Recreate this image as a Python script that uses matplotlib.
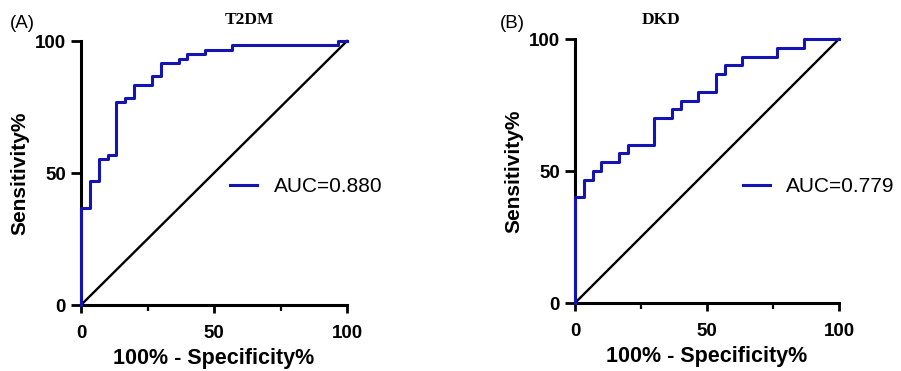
import matplotlib.pyplot as plt
from matplotlib.ticker import MultipleLocator

# ROC corner points (100% - specificity, sensitivity)
fpr_t2dm = [0, 0, 3.3, 6.7, 10, 13.3, 16.7, 20, 26.7, 30, 36.7, 40, 46.7, 56.7, 96.7, 100]
tpr_t2dm = [0, 36.7, 47, 55.3, 56.8, 76.8, 78.3, 83.5, 86.8, 91.8, 93.3, 95.1, 96.6, 98.4, 100, 100]

fpr_dkd = [0, 0, 3.3, 6.7, 10, 16.7, 20, 30, 36.7, 40, 46.7, 53.3, 56.7, 63.3, 76.7, 86.7, 100]
tpr_dkd = [0, 40, 46.7, 50, 53.3, 56.7, 60, 70, 73.3, 76.7, 80, 86.7, 90, 93.3, 96.7, 100, 100]

titles = ['T2DM', 'DKD']
panel_tags = ['(A)', '(B)']
auc_labels = ['AUC=0.880', 'AUC=0.779']

plt.rcParams['font.family'] = ['Liberation Sans', 'DejaVu Sans']

W, H = 901, 371
fig = plt.figure(figsize=(W / 100, H / 100), dpi=100)

boxes = [(81, 347, 41, 305), (575, 839, 39, 303)]
curves = [(fpr_t2dm, tpr_t2dm), (fpr_dkd, tpr_dkd)]
title_pos = [(249, 20), (661, 20)]
tag_pos = [(10, 23), (500, 23)]
legend_anchor = [(230, 186.7), (742.7, 186.7)]

blue = '#1414b4'

for i in range(2):
    l, r, t, b = boxes[i]
    ax = fig.add_axes([l / W, 1 - b / H, (r - l) / W, (b - t) / H])
    fx, ty = curves[i]
    ax.plot([0, 100], [0, 100], color='black', lw=1.7, clip_on=False)
    # roc curve on top of the axis line
    ax.plot(fx, ty, drawstyle='steps-post', color=blue, lw=2.2,
            clip_on=False, label=auc_labels[i], zorder=3)
    ax.set_xlim(0, 100)
    ax.set_ylim(0, 100)
    for s in ['top', 'right']:
        ax.spines[s].set_visible(False)
    for s in ['left', 'bottom']:
        ax.spines[s].set_linewidth(2.2)
    ax.set_xticks([0, 50, 100])
    ax.set_yticks([0, 50, 100])
    ax.xaxis.set_minor_locator(MultipleLocator(25))
    ax.tick_params(which='major', width=2.0, labelsize=13.5)
    ax.tick_params(which='major', axis='x', length=5.5, pad=9)
    ax.tick_params(which='major', axis='y', length=7.5, pad=3.5)
    ax.tick_params(which='minor', axis='x', length=4, width=1.6)
    for lab in ax.get_xticklabels() + ax.get_yticklabels():
        lab.set_fontweight('bold')
    ax.set_xlabel('100% - Specificity%', fontsize=15.5, fontweight='bold', labelpad=4)
    ax.set_ylabel('Sensitivity%', fontsize=15, fontweight='bold', labelpad=4)

    lx, ly = legend_anchor[i]
    ax.legend(loc='center left',
              bbox_to_anchor=((lx - l) / (r - l), (b - ly) / (b - t)),
              frameon=False, fontsize=15, handlelength=1.3, handletextpad=0.8,
              borderpad=0, borderaxespad=0)

    tx, tyy = title_pos[i]
    fig.text(tx / W, 1 - tyy / H, titles[i], family='Liberation Serif',
             fontweight='bold', fontsize=12.5, ha='center', va='center')
    px, py = tag_pos[i]
    fig.text(px / W, 1 - py / H, panel_tags[i], fontsize=13.5,
             ha='left', va='center')

fig.savefig('out.png', dpi=100)
